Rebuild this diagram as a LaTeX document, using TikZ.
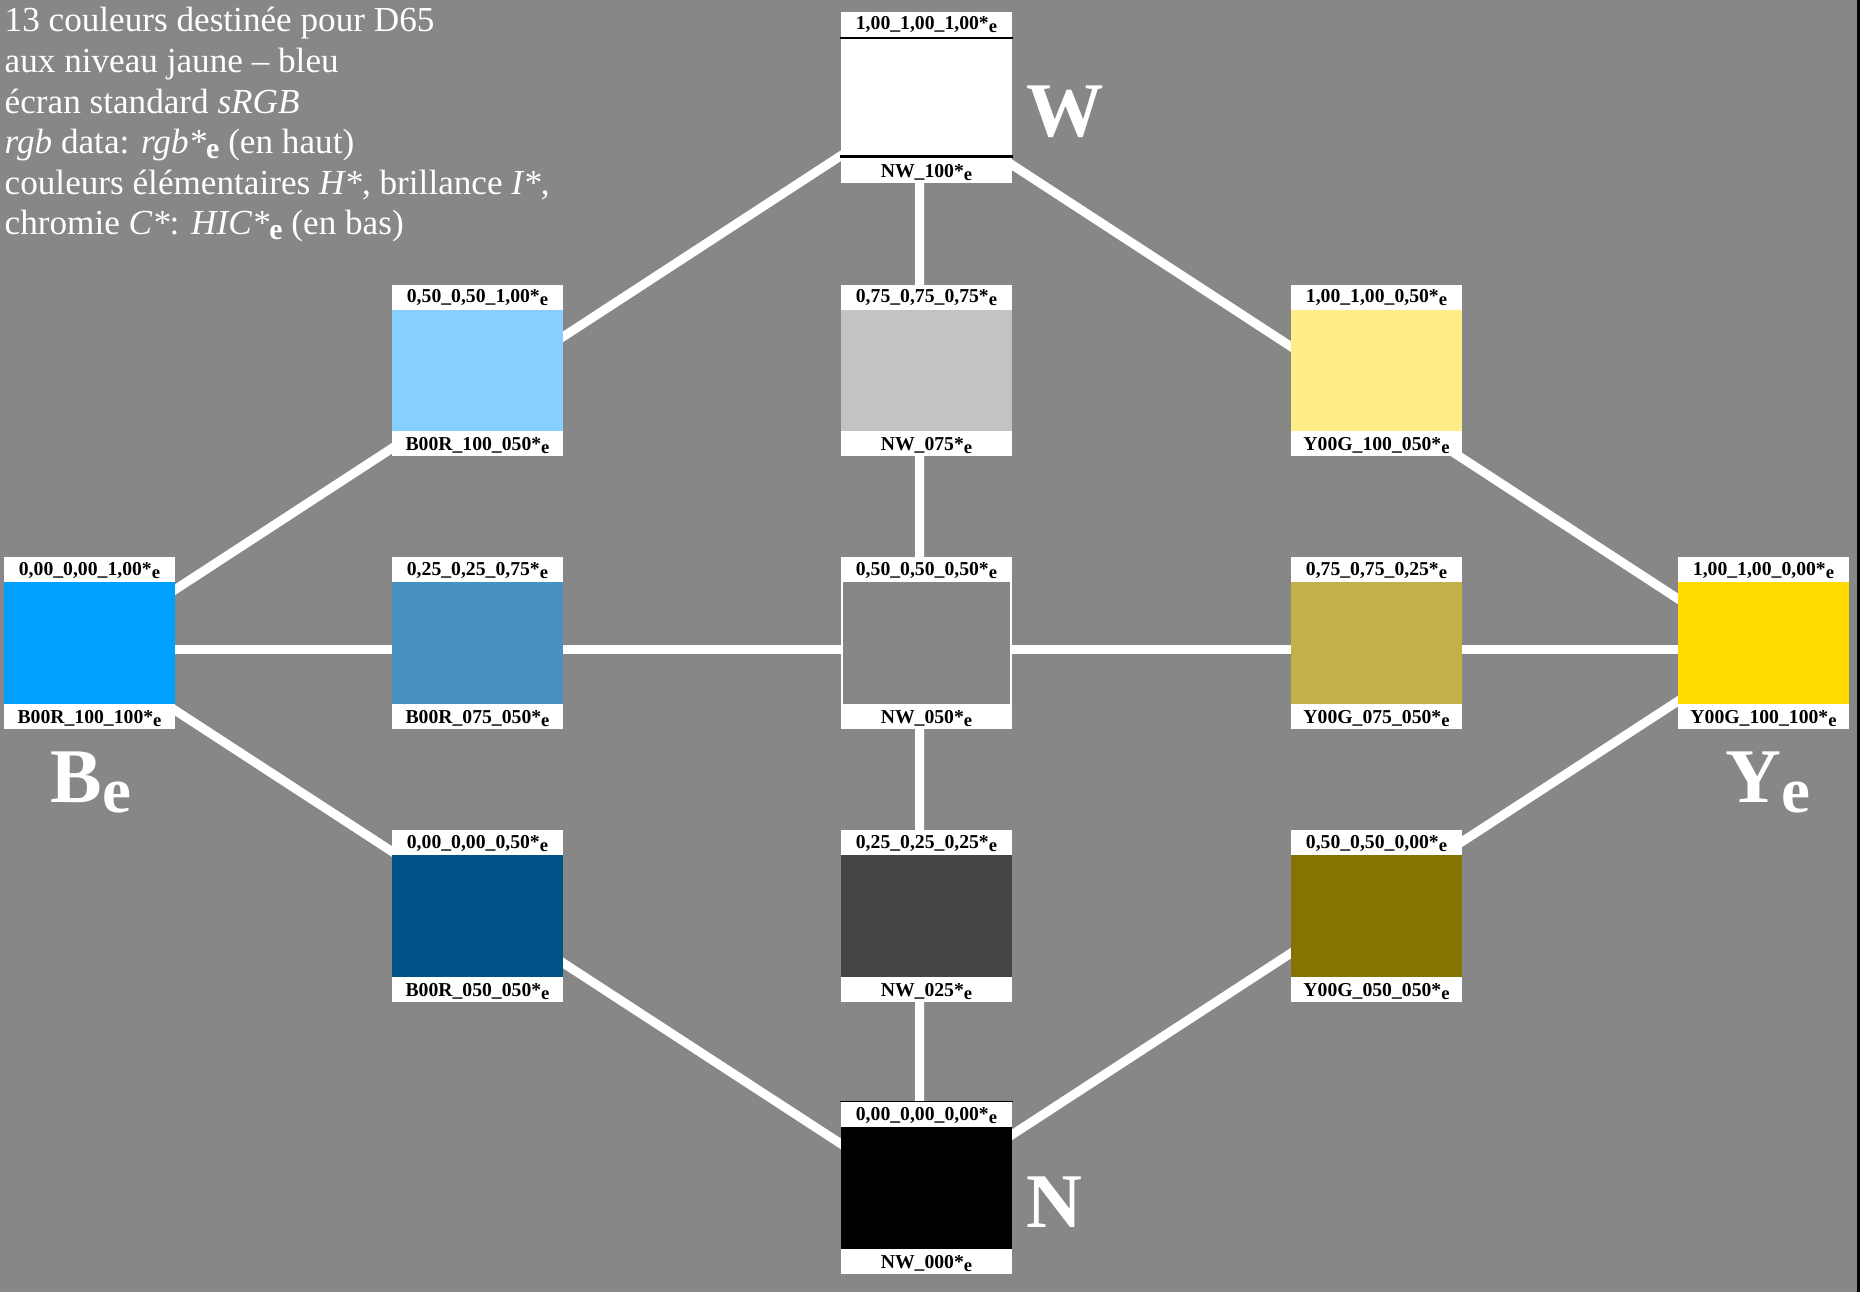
\documentclass[tikz,border=0pt]{standalone}
\usepackage{fontspec}
\setmainfont{Liberation Serif}
\usetikzlibrary{backgrounds}
\definecolor{bg}{RGB}{135,135,135}
\definecolor{cBe}{RGB}{0,160,255}
\definecolor{cBa}{RGB}{135,207,255}
\definecolor{cBb}{RGB}{72,146,194}
\definecolor{cBc}{RGB}{0,84,135}
\definecolor{cGa}{RGB}{195,195,195}
\definecolor{cGc}{RGB}{68,68,68}
\definecolor{cYa}{RGB}{255,237,135}
\definecolor{cYb}{RGB}{194,176,72}
\definecolor{cYc}{RGB}{135,116,0}
\definecolor{cYe}{RGB}{255,219,0}
\newcommand{\sube}{\raisebox{-0.9pt}{\fontsize{5.3}{5.3}\selectfont e}}
\newcommand{\tsube}{\raisebox{-1.2pt}{\fontsize{8.5}{9}\selectfont\bfseries e}}
\newcommand{\bsube}{\raisebox{-2.8pt}{\fontsize{18.5}{20}\selectfont e}}

\begin{document}
\begin{tikzpicture}[
  x=0.01cm, y=-0.01cm,
  card/.style={fill=white, inner sep=0pt, minimum width=1.71cm, minimum height=1.71cm},
  patch/.style={inner sep=0pt, minimum width=1.71cm, minimum height=1.21cm},
  lab/.style={font=\fontsize{5.6}{6}\selectfont\bfseries, inner sep=0pt, anchor=base},
  big/.style={font=\fontsize{22}{24}\selectfont\bfseries, text=white, inner sep=0pt, anchor=base west},
  title/.style={font=\fontsize{10}{11.4}\selectfont, text=white, inner sep=0pt, anchor=base west},
  link/.style={white, line width=0.09cm},
]

% colour cards: name / x / y / colour / rgb data / HIC data
\foreach \nm/\cx/\cy/\col/\up/\dn in {
  W/926.5/97.5/white/{1,00\_1,00\_1,00}/NW\_100,
  Ba/477.5/370.5/cBa/{0,50\_0,50\_1,00}/B00R\_100\_050,
  Ga/926.5/370.5/cGa/{0,75\_0,75\_0,75}/NW\_075,
  Ya/1376.5/370.5/cYa/{1,00\_1,00\_0,50}/Y00G\_100\_050,
  Be/89.5/643/cBe/{0,00\_0,00\_1,00}/B00R\_100\_100,
  Bb/477.5/643/cBb/{0,25\_0,25\_0,75}/B00R\_075\_050,
  Gb/926.5/643/white/{0,50\_0,50\_0,50}/NW\_050,
  Yb/1376.5/643/cYb/{0,75\_0,75\_0,25}/Y00G\_075\_050,
  Ye/1763.5/643/cYe/{1,00\_1,00\_0,00}/Y00G\_100\_100,
  Bc/477.5/916/cBc/{0,00\_0,00\_0,50}/B00R\_050\_050,
  Gc/926.5/916/cGc/{0,25\_0,25\_0,25}/NW\_025,
  Yc/1376.5/916/cYc/{0,50\_0,50\_0,00}/Y00G\_050\_050,
  N/926.5/1188/black/{0,00\_0,00\_0,00}/NW\_000} {
  \node[card] (\nm) at (\cx,\cy) {};
  \node[patch, fill=\col] (\nm-c) at (\nm.center) {};
  \node[lab] (\nm-up) at ([yshift=-0.185cm]\nm.north) {\up*\sube};
  \node[lab] (\nm-dn) at ([yshift=0.06cm]\nm.south) {\dn*\sube};
}

% white card: black rules, grey card: inner field
\draw[black, line width=0.7pt] ([yshift=-0.02cm]W-c.north west) -- ([yshift=-0.02cm]W-c.north east);
\draw[black, line width=0.7pt] ([yshift=0.02cm]W-c.south west) -- ([yshift=0.02cm]W-c.south east);
\node[patch, fill=bg, minimum width=1.66cm] (Gb-in) at (Gb.center) {};
\draw[black, line width=0.3pt] (N.north west) -- (N.north east);

% corner letters
\node[big] (lW) at (1026,137) {W};
\node[big] (lN) at (1026,1228) {N};
\node[big] (lBe) at (50,803) {B\bsube};
\node[big] (lYe) at (1725,803) {Y\bsube};

% legend
\foreach \txt [count=\i from 0] in {
  {13 couleurs destinée pour D65},
  {aux niveau jaune -- bleu},
  {écran standard \textit{sRGB}},
  {\textit{rgb} data: \textit{rgb*}\tsube{} (en haut)},
  {couleurs élémentaires \textit{H*}, brillance \textit{I*},},
  {chromie \textit{C*}: \textit{HIC*}\tsube{} (en bas)}} {
  \node[title] (t\i) at (4, 32+40.6*\i) {\txt};
}

\begin{pgfonlayer}{background}
  \fill[white] (0,0) rectangle (1868,1292);
  \fill[bg] (0,0) rectangle (1857,1292);
  \fill[black] (1857,0) rectangle (1860,1292);
  \draw[link] ([shift={(-7,7)}]W.center) -- ([shift={(-7,7)}]Be.center)
    -- ([shift={(-7,7)}]N.center) -- ([shift={(-7,7)}]Ye.center)
    -- ([shift={(-7,7)}]W.center) -- ([shift={(-7,7)}]N.center);
  \draw[link] ([shift={(-7,7)}]Be.center) -- ([shift={(-7,7)}]Ye.center);
\end{pgfonlayer}

\end{tikzpicture}
\end{document}
